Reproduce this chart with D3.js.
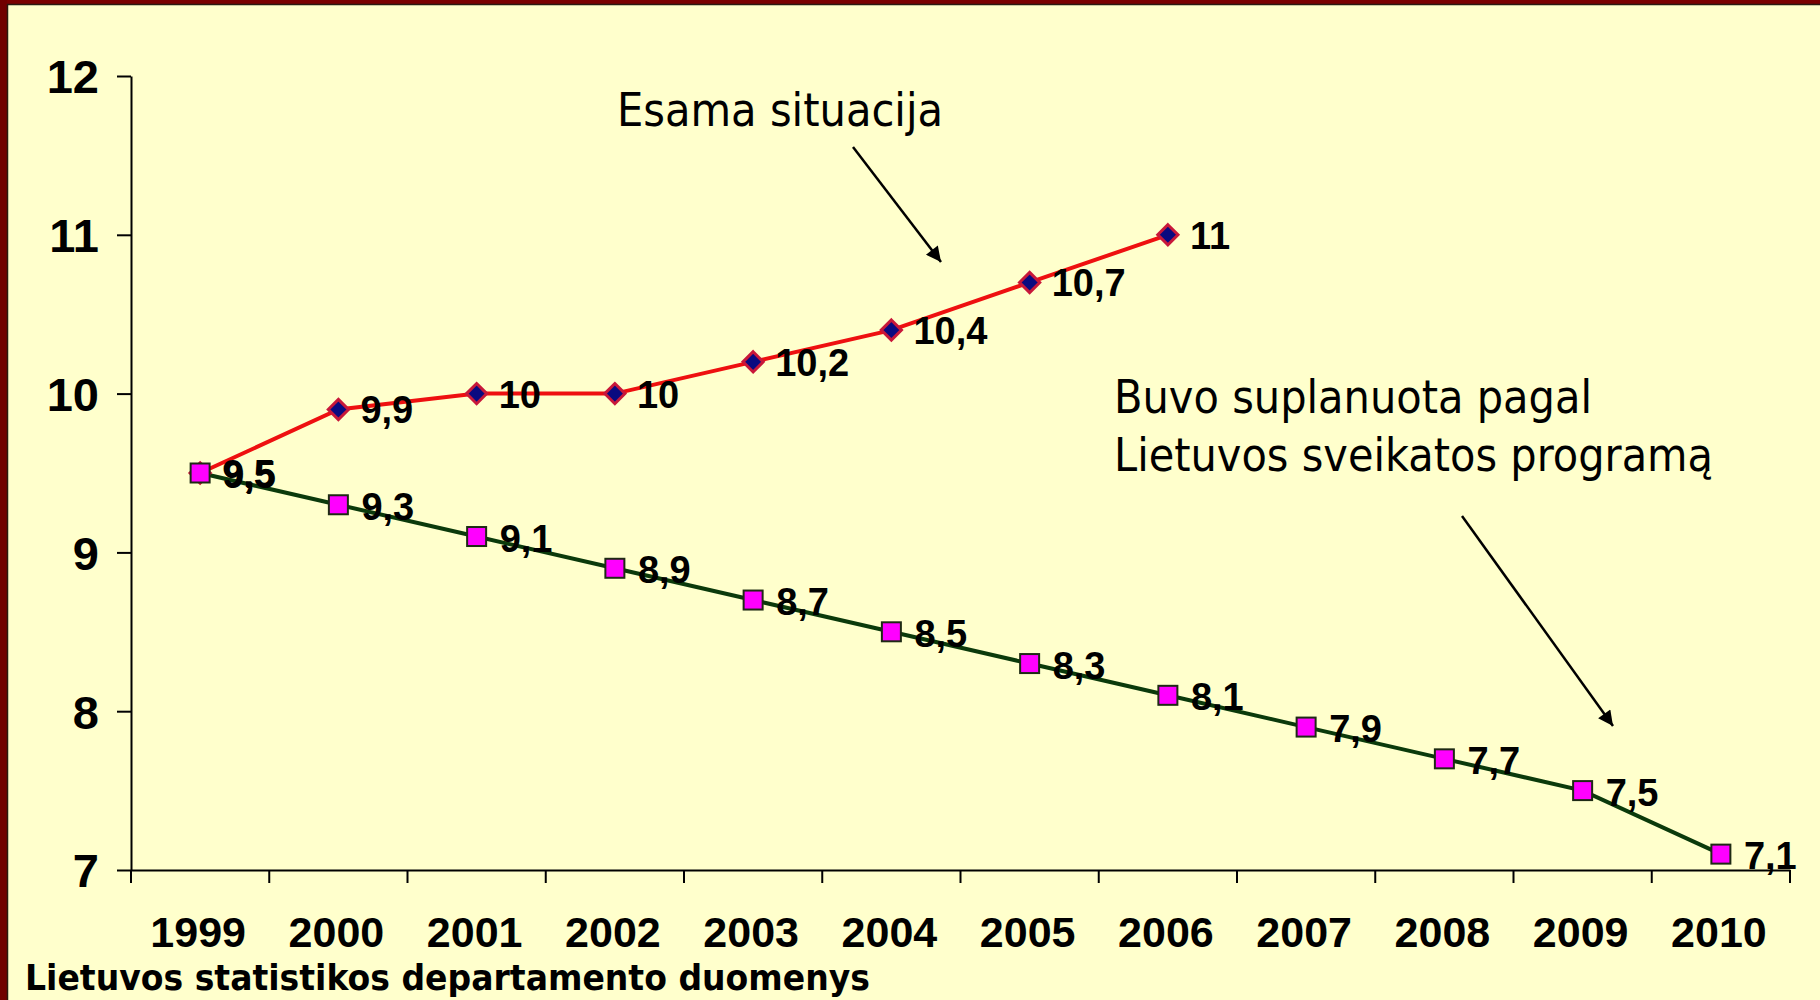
<!DOCTYPE html>
<html>
<head>
<meta charset="utf-8">
<script src="https://cdn.jsdelivr.net/npm/d3@7"></script>
<style>
  html, body { margin: 0; padding: 0; background: #FFFFCC; }
  svg { display: block; }
</style>
</head>
<body>
<svg id="chart" width="1820" height="1000"></svg>
<script>
// ---- data ----
const years = ["1999","2000","2001","2002","2003","2004","2005","2006","2007","2008","2009","2010"];
const actualYears = ["1999","2000","2001","2002","2003","2004","2005","2006"];
const actualValues = [9.5, 9.9, 10, 10, 10.2, 10.4, 10.7, 11];
const actualLabels = ["9,5","9,9","10","10","10,2","10,4","10,7","11"];
const plannedValues = [9.5, 9.3, 9.1, 8.9, 8.7, 8.5, 8.3, 8.1, 7.9, 7.7, 7.5, 7.1];
const plannedLabels = ["9,5","9,3","9,1","8,9","8,7","8,5","8,3","8,1","7,9","7,7","7,5","7,1"];
const yTicks = [7, 8, 9, 10, 11, 12];
const annotationActual = "Esama situacija";
const annotationPlanned = ["Buvo suplanuota pagal", "Lietuvos sveikatos programą"];
const sourceText = "Lietuvos statistikos departamento duomenys";

// ---- layout ----
const svg = d3.select("#chart");
const W = 1820, H = 1000;
const plot = { left: 131, right: 1790, top: 76, bottom: 870 };

svg.append("rect").attr("x", 0).attr("y", 0).attr("width", W).attr("height", H).attr("fill", "#FFFFCC");
// frame (dark red strips top & left)
svg.append("rect").attr("x", 0).attr("y", 0).attr("width", W).attr("height", 4).attr("fill", "#7A0000");
svg.append("rect").attr("x", 0).attr("y", 0).attr("width", 7).attr("height", H).attr("fill", "#700000");
svg.append("line").attr("x1", 7).attr("x2", W).attr("y1", 4.5).attr("y2", 4.5).attr("stroke", "#2a1a10").attr("stroke-width", 1.5);
svg.append("line").attr("x1", 7.5).attr("x2", 7.5).attr("y1", 4).attr("y2", H).attr("stroke", "#2a1a10").attr("stroke-width", 1.5);

const x = d3.scaleBand().domain(years).range([plot.left, plot.right]).paddingInner(0).paddingOuter(0);
const y = d3.scaleLinear().domain([7, 12]).range([plot.bottom, plot.top]);
const cx = d => x(d) + x.bandwidth() / 2;

const numFont = "'Liberation Sans', Arial, sans-serif";

// ---- axes ----
const yAxis = svg.append("g").attr("transform", `translate(${plot.left},0)`)
  .call(d3.axisLeft(y).tickValues(yTicks).tickSize(14).tickSizeOuter(0).tickPadding(18).tickFormat(d3.format("d")));
yAxis.select(".domain").attr("stroke", "#000").attr("stroke-width", 2);
yAxis.selectAll(".tick line").attr("stroke", "#000").attr("stroke-width", 2);
yAxis.selectAll(".tick text")
  .attr("font-family", numFont).attr("font-weight", "bold")
  .attr("font-size", 47).attr("fill", "#000").attr("dy", "0.36em");

const xAxis = svg.append("g").attr("transform", `translate(0,${plot.bottom})`)
  .call(d3.axisBottom(x).tickSize(0).tickSizeOuter(0).tickPadding(0));
xAxis.select(".domain").attr("stroke", "#000").attr("stroke-width", 2);
xAxis.selectAll(".tick text")
  .attr("font-family", numFont).attr("font-weight", "bold")
  .attr("font-size", 43).attr("fill", "#000").attr("y", 77).attr("dy", 0)
  .attr("transform", "translate(-2,0)");
// category boundary ticks
const bounds = years.map(d => x(d)).concat([x(years[years.length - 1]) + x.step()]);
svg.append("g").selectAll("line").data(bounds).join("line")
  .attr("x1", d => d).attr("x2", d => d)
  .attr("y1", plot.bottom).attr("y2", plot.bottom + 13)
  .attr("stroke", "#000").attr("stroke-width", 2);

// ---- series ----
const actual = actualYears.map((d, i) => ({ year: d, value: actualValues[i], label: actualLabels[i] }));
const planned = years.map((d, i) => ({ year: d, value: plannedValues[i], label: plannedLabels[i] }));

const line = d3.line().x(d => cx(d.year)).y(d => y(d.value));

svg.append("path").datum(actual).attr("d", line)
  .attr("fill", "none").attr("stroke", "#EE1010").attr("stroke-width", 4);

svg.append("path").datum(planned).attr("d", line)
  .attr("fill", "none").attr("stroke", "#0B3A0B").attr("stroke-width", 4);

svg.append("g").selectAll("path").data(actual).join("path")
  .attr("transform", d => `translate(${cx(d.year)},${y(d.value)})`)
  .attr("d", d3.symbol().type(d3.symbolDiamond2).size(260))
  .attr("fill", "#0A0A80").attr("stroke", "#C8183A").attr("stroke-width", 3);

svg.append("g").selectAll("text").data(actual).join("text")
  .attr("x", d => cx(d.year) + 22).attr("y", d => y(d.value) + 14)
  .attr("font-family", numFont).attr("font-weight", "bold").attr("font-size", 38)
  .attr("fill", "#000").text(d => d.label);

svg.append("g").selectAll("rect").data(planned).join("rect")
  .attr("x", d => cx(d.year) - 9.5).attr("y", d => y(d.value) - 9.5)
  .attr("width", 19).attr("height", 19)
  .attr("fill", "#FF00FF").attr("stroke", "#1E2A14").attr("stroke-width", 2);

svg.append("g").selectAll("text").data(planned).join("text")
  .attr("x", d => cx(d.year) + 23).attr("y", d => y(d.value) + 15)
  .attr("font-family", numFont).attr("font-weight", "bold").attr("font-size", 38)
  .attr("fill", "#000").text(d => d.label);

// ---- annotations ----
const defs = svg.append("defs");
defs.append("marker").attr("id", "arrow").attr("viewBox", "0 0 10 10")
  .attr("refX", 10).attr("refY", 5).attr("markerWidth", 7).attr("markerHeight", 6)
  .attr("markerUnits", "strokeWidth").attr("orient", "auto")
  .append("path").attr("d", "M0,0 L10,5 L0,10 Z").attr("fill", "#000");

const annFont = "'DejaVu Sans', Verdana, sans-serif";
svg.append("text").attr("x", 617).attr("y", 126)
  .attr("font-family", annFont).attr("font-size", 47).attr("fill", "#000")
  .attr("textLength", 326).attr("lengthAdjust", "spacingAndGlyphs")
  .text(annotationActual);
svg.append("line").attr("x1", 853).attr("y1", 147).attr("x2", 941).attr("y2", 262)
  .attr("stroke", "#000").attr("stroke-width", 2.5).attr("marker-end", "url(#arrow)");

const planLens = [478, 599];
annotationPlanned.forEach((t, i) => {
  svg.append("text").attr("x", 1114).attr("y", 413 + i * 58)
    .attr("font-family", annFont).attr("font-size", 47).attr("fill", "#000")
    .attr("textLength", planLens[i]).attr("lengthAdjust", "spacingAndGlyphs")
    .text(t);
});
svg.append("line").attr("x1", 1462).attr("y1", 516).attr("x2", 1613).attr("y2", 726)
  .attr("stroke", "#000").attr("stroke-width", 2.5).attr("marker-end", "url(#arrow)");

// ---- source ----
svg.append("text").attr("x", 25).attr("y", 990)
  .attr("font-family", annFont).attr("font-weight", "bold").attr("font-size", 35).attr("fill", "#000")
  .attr("textLength", 845).attr("lengthAdjust", "spacingAndGlyphs")
  .text(sourceText);
</script>
</body>
</html>
